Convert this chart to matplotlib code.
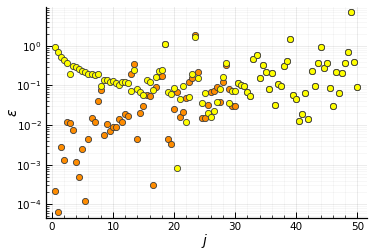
import numpy as np
import matplotlib
matplotlib.use("Agg")
import matplotlib.pyplot as plt
from matplotlib.ticker import LogLocator, MultipleLocator, NullFormatter

# j = 0.5, 1.0, ..., 50.0
j = np.arange(1, 101) / 2

# log10(eps), yellow series (drawn on top)
log_eps_yellow = [
    -0.03, -0.156, -0.27, -0.35, -0.43, -0.70, -0.50, -0.544, -0.595, -0.63,
    -0.67, -0.70, -0.70, -0.74, -0.70, -1.025, -0.87, -0.85, -0.91, -0.88,
    -0.95, -0.99, -0.92, -0.90, -0.93, -1.13, -0.62, -1.08, -1.16, -1.245,
    -0.87, -0.90, -1.12, -0.79, -0.63, -0.62, 0.05, -1.16, -1.21, -1.06,
    -3.09, -1.35, -1.02, -1.92, -1.28, -0.70, 0.21, -0.81, -1.43, -1.19,
    -1.70, -1.79, -1.65, -1.41, -1.08, -0.79, -0.43, -1.45, -1.15, -1.15,
    -0.94, -0.99, -1.02, -1.16, -1.26, -0.34, -0.23, -0.81, -0.49, -0.65,
    -1.08, -0.69, -1.50, -0.96, -1.01, -0.52, -0.39, 0.17, -1.24, -1.35,
    -1.89, -1.73, -1.19, -1.84, -0.64, -1.01, -0.44, -0.03, -0.57, -0.43,
    -1.06, -1.52, -0.65, -1.19, -0.69, -0.44, -0.15, 0.85, -0.40, -1.03,
]

# orange series (drawn underneath, hidden past j=30)
log_eps_orange = [
    -3.65, -4.19, -2.55, -2.89, -1.92, -1.95, -2.12, -2.92, -3.32, -2.60,
    -3.91, -2.34, -1.83, -1.93, -1.39, -1.12, -2.25, -1.96, -2.14, -2.05,
    -2.05, -1.84, -1.92, -1.71, -1.78, -0.70, -0.45, -2.36, -1.70, -1.52,
    -1.23, -1.26, -3.52, -1.04, -0.76, -0.75, 0.05, -2.36, -2.48, -1.59,
    -1.17, -1.79, -1.66, -1.31, -0.92, -0.82, 0.27, -0.65, -1.82, -1.81,
    -1.50, -1.16, -1.13, -1.03, -1.42, -0.92, -0.49, -1.09, -1.53, -1.52,
    -0.94, -0.99, -1.02, -1.16, -1.26, -0.34, -0.23, -0.81, -0.49, -0.65,
    -1.08, -0.69, -1.50, -0.96, -1.01, -0.52, -0.39, 0.17, -1.24, -1.35,
    -1.89, -1.73, -1.19, -1.84, -0.64, -1.01, -0.44, -0.03, -0.57, -0.43,
    -1.06, -1.52, -0.65, -1.19, -0.69, -0.44, -0.15, 0.85, -0.40, -1.03,
]

eps_yellow = 10.0 ** np.array(log_eps_yellow)
eps_orange = 10.0 ** np.array(log_eps_orange)

fig = plt.figure(figsize=(3.74, 2.49), dpi=100)
ax = fig.add_axes([0.123, 0.125, 0.857, 0.847])

ax.scatter(j, eps_orange, s=20, color="#ff8c00", edgecolors="#3c3c3c",
           linewidths=0.6, zorder=3)
ax.scatter(j, eps_yellow, s=20, color="#ffff00", edgecolors="#3c3c3c",
           linewidths=0.6, zorder=4)

ax.set_yscale("log")
ax.set_xlim(-0.95, 51.5)
ax.set_ylim(10 ** -4.34, 10 ** 0.98)

ax.xaxis.set_major_locator(MultipleLocator(10))
ax.xaxis.set_minor_locator(MultipleLocator(2))
ax.yaxis.set_major_locator(LogLocator(base=10, numticks=10))
ax.yaxis.set_minor_locator(LogLocator(base=10, subs=np.arange(2, 10), numticks=20))
ax.yaxis.set_minor_formatter(NullFormatter())

ax.grid(True, which="major", color="#000000", alpha=0.09, linewidth=0.6)
ax.grid(True, which="minor", color="#000000", alpha=0.045, linewidth=0.5)
ax.set_axisbelow(True)

for side in ["top", "right"]:
    ax.spines[side].set_visible(False)
ax.spines["left"].set_linewidth(0.9)
ax.spines["bottom"].set_linewidth(0.9)

ax.tick_params(which="major", direction="in", length=4, width=0.7,
               labelsize=7.5, colors="black", pad=3)
ax.tick_params(which="minor", direction="in", length=2, width=0.5)

ax.set_xlabel(r"$j$", fontsize=10)
ax.set_ylabel(r"$\varepsilon$", fontsize=10)
ax.xaxis.set_label_coords(0.496, -0.068)
ax.yaxis.set_label_coords(-0.081, 0.5)

fig.savefig("out.png", dpi=100)
